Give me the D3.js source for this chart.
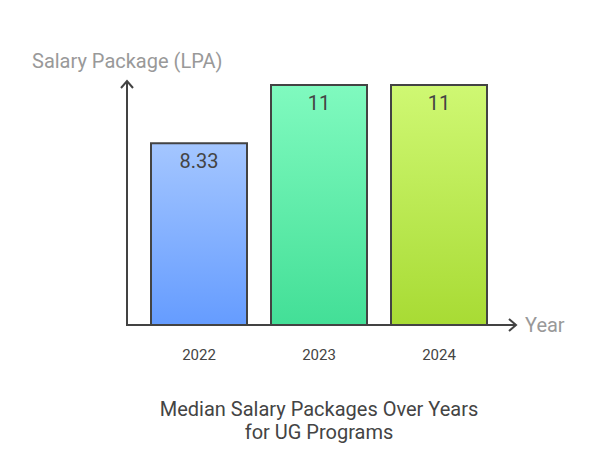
<!DOCTYPE html>
<html>
<head>
<meta charset="utf-8">
<script src="https://cdn.jsdelivr.net/npm/d3@7"></script>
<style>
  body { margin: 0; background: #fff; }
  text { font-family: Roboto, "Noto Sans", sans-serif; }
</style>
</head>
<body>
<script>
var years = ['2022', '2023', '2024'];
var salaries = [8.33, 11, 11];
var topColors = ['#a4c6ff', '#80fabf', '#cff873'];
var bottomColors = ['#659cff', '#43df97', '#a8db34'];

var w = 596;
var h = 470;
var x0 = 127, yBase = 325, yTop = 85;

var svg = d3.select('body')
  .append('svg')
  .attr('width', w)
  .attr('height', h);

var xScale = d3.scaleBand()
  .domain(years)
  .range([139, 499])
  .paddingInner(0.2)
  .paddingOuter(0.1);

var yScale = d3.scaleLinear()
  .domain([0, d3.max(salaries)])
  .range([yBase, yTop]);

var defs = svg.append('defs');
years.forEach(function (y, i) {
  var g = defs.append('linearGradient')
    .attr('id', 'grad' + i)
    .attr('x1', 0).attr('y1', 0)
    .attr('x2', 0).attr('y2', 1);
  g.append('stop').attr('offset', '0%').attr('stop-color', topColors[i]);
  g.append('stop').attr('offset', '100%').attr('stop-color', bottomColors[i]);
});

// bars
svg.selectAll('rect.bar')
  .data(salaries)
  .enter()
  .append('rect')
  .attr('class', 'bar')
  .attr('x', (d, i) => xScale(years[i]))
  .attr('y', d => yScale(d))
  .attr('width', xScale.bandwidth())
  .attr('height', d => yBase - yScale(d))
  .attr('fill', (d, i) => 'url(#grad' + i + ')')
  .attr('stroke', '#434343')
  .attr('stroke-width', 2);

// value labels
svg.selectAll('text.val')
  .data(salaries)
  .enter()
  .append('text')
  .attr('class', 'val')
  .attr('x', (d, i) => xScale(years[i]) + xScale.bandwidth() / 2)
  .attr('y', d => yScale(d) + 25)
  .attr('text-anchor', 'middle')
  .attr('font-size', 20)
  .attr('fill', '#444')
  .text(d => d);

// axes lines with arrows
var axisColor = '#434343';
svg.append('path')
  .attr('d', 'M' + x0 + ',' + yBase + 'V81')
  .attr('stroke', axisColor).attr('stroke-width', 2).attr('fill', 'none');
svg.append('path')
  .attr('d', 'M' + (x0 - 6) + ',88L' + x0 + ',81L' + (x0 + 6) + ',88')
  .attr('stroke', axisColor).attr('stroke-width', 2).attr('fill', 'none');
svg.append('path')
  .attr('d', 'M' + (x0 - 1) + ',' + yBase + 'H516')
  .attr('stroke', axisColor).attr('stroke-width', 2).attr('fill', 'none');
svg.append('path')
  .attr('d', 'M509,' + (yBase - 6) + 'L516,' + yBase + 'L509,' + (yBase + 6))
  .attr('stroke', axisColor).attr('stroke-width', 2).attr('fill', 'none');

// year ticks
var xAxis = d3.axisBottom(xScale).tickSize(0).tickPadding(0);
var gx = svg.append('g')
  .attr('transform', 'translate(0,' + 360 + ')')
  .call(xAxis);
gx.select('.domain').remove();
gx.selectAll('text')
  .attr('dy', 0)
  .attr('y', 0)
  .attr('font-family', 'Roboto, sans-serif')
  .attr('font-size', 15)
  .attr('fill', '#444');

// axis titles
svg.append('text')
  .attr('x', 32).attr('y', 68)
  .attr('font-size', 20)
  .attr('fill', '#999')
  .text('Salary Package (LPA)');

svg.append('text')
  .attr('x', 525).attr('y', 332)
  .attr('font-size', 20)
  .attr('fill', '#999')
  .text('Year');

// chart title
var title = svg.append('text')
  .attr('x', 319)
  .attr('text-anchor', 'middle')
  .attr('font-size', 20)
  .attr('fill', '#444');
title.append('tspan').attr('x', 319).attr('y', 416).text('Median Salary Packages Over Years');
title.append('tspan').attr('x', 319).attr('y', 439).text('for UG Programs');
</script>
</body>
</html>
